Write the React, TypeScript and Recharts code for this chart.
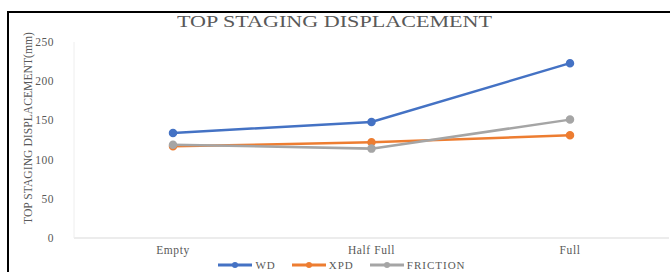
import { LineChart, Line, XAxis, YAxis, Label } from "recharts";

const categories = ["Empty", "Half Full", "Full"];
const wd = [134, 148, 223];
const xpd = [117, 122, 131];
const friction = [119, 114, 151];
const yTicks = [0, 50, 100, 150, 200, 250];

const series = [
  { key: "WD", color: "#4472C4", values: wd },
  { key: "XPD", color: "#ED7D31", values: xpd },
  { key: "FRICTION", color: "#A5A5A5", values: friction },
];

const data = categories.map((c, i) => ({
  name: c,
  WD: wd[i],
  XPD: xpd[i],
  FRICTION: friction[i],
}));

const FONT = '"Liberation Serif", "Times New Roman", serif';
const TEXT = "#595959";

function YTitle(props: any) {
  const { viewBox } = props;
  const cx = 28;
  const cy = viewBox.y + viewBox.height / 2 - 12;
  return (
    <text
      x={cx}
      y={cy}
      transform={`rotate(-90, ${cx}, ${cy})`}
      textAnchor="middle"
      dominantBaseline="central"
      fontFamily={FONT}
      fontSize={12}
      fill={TEXT}
      textLength={192}
      lengthAdjust="spacingAndGlyphs"
    >
      TOP STAGING DISPLACEMENT(mm)
    </text>
  );
}

function LegendRow() {
  return (
    <div
      style={{
        position: "absolute",
        left: 0,
        top: 259,
        width: 670,
        display: "flex",
        justifyContent: "center",
        paddingLeft: 14,
        boxSizing: "border-box",
        gap: 16,
        fontFamily: FONT,
        fontSize: 11,
        lineHeight: "12px",
        color: TEXT,
      }}
    >
      {series.map((s) => (
        <div key={s.key} style={{ display: "flex", alignItems: "center", gap: 3 }}>
          <svg width={34} height={8}>
            <line x1={0} y1={4} x2={34} y2={4} stroke={s.color} strokeWidth={3} />
            <circle cx={17} cy={4} r={3} fill={s.color} />
          </svg>
          <span style={{ letterSpacing: 1 }}>{s.key}</span>
        </div>
      ))}
    </div>
  );
}

export default function App() {
  return (
    <div style={{ position: "absolute", left: 0, top: 0, width: 670, height: 272, overflow: "hidden", background: "#fff" }}>
      <div
        style={{
          position: "absolute",
          left: 7,
          top: 11,
          width: 700,
          height: 300,
          borderTop: "2px solid #000",
          borderLeft: "2px solid #000",
        }}
      />
      <div
        style={{
          position: "absolute",
          left: 0,
          top: 12,
          width: 670,
          textAlign: "center",
          paddingLeft: 14,
          boxSizing: "border-box",
        }}
      >
        <svg width={330} height={20}>
          <text
            x={0}
            y={15}
            fontFamily={FONT}
            fontSize={17}
            fill={TEXT}
            textLength={315}
            lengthAdjust="spacingAndGlyphs"
          >
            TOP STAGING DISPLACEMENT
          </text>
        </svg>
      </div>
      <div style={{ position: "absolute", left: 0, top: 0 }}>
        <LineChart width={670} height={272} data={data} margin={{ top: 42, right: 1, bottom: 4, left: 10 }}>
          <XAxis
            dataKey="name"
            padding={{ left: 99, right: 99 }}
            tickLine={false}
            axisLine={{ stroke: "#d9d9d9" }}
            tick={{ fontFamily: FONT, fontSize: 11.5, fill: TEXT, letterSpacing: 0.6 }}
            tickMargin={2}
            height={30}
          />
          <XAxis xAxisId="top" orientation="top" dataKey="name" tick={false} tickLine={false} axisLine={{ stroke: "#eeeeee" }} height={0} />
          <YAxis
            domain={[0, 250]}
            ticks={yTicks}
            tickLine={false}
            axisLine={{ stroke: "#eeeeee" }}
            tick={{ fontFamily: FONT, fontSize: 11.5, fill: TEXT, letterSpacing: 0.5 }}
            tickMargin={14}
            width={64}
          >
            <Label content={<YTitle />} />
          </YAxis>
          <YAxis yAxisId="right" orientation="right" tick={false} tickLine={false} axisLine={{ stroke: "#c9d3ea" }} width={0} />
          {series.map((s) => (
            <Line
              key={s.key}
              dataKey={s.key}
              stroke={s.color}
              strokeWidth={2.5}
              dot={{ r: 3, fill: s.color, stroke: s.color }}
              isAnimationActive={false}
            />
          ))}
        </LineChart>
      </div>
      <LegendRow />
    </div>
  );
}
